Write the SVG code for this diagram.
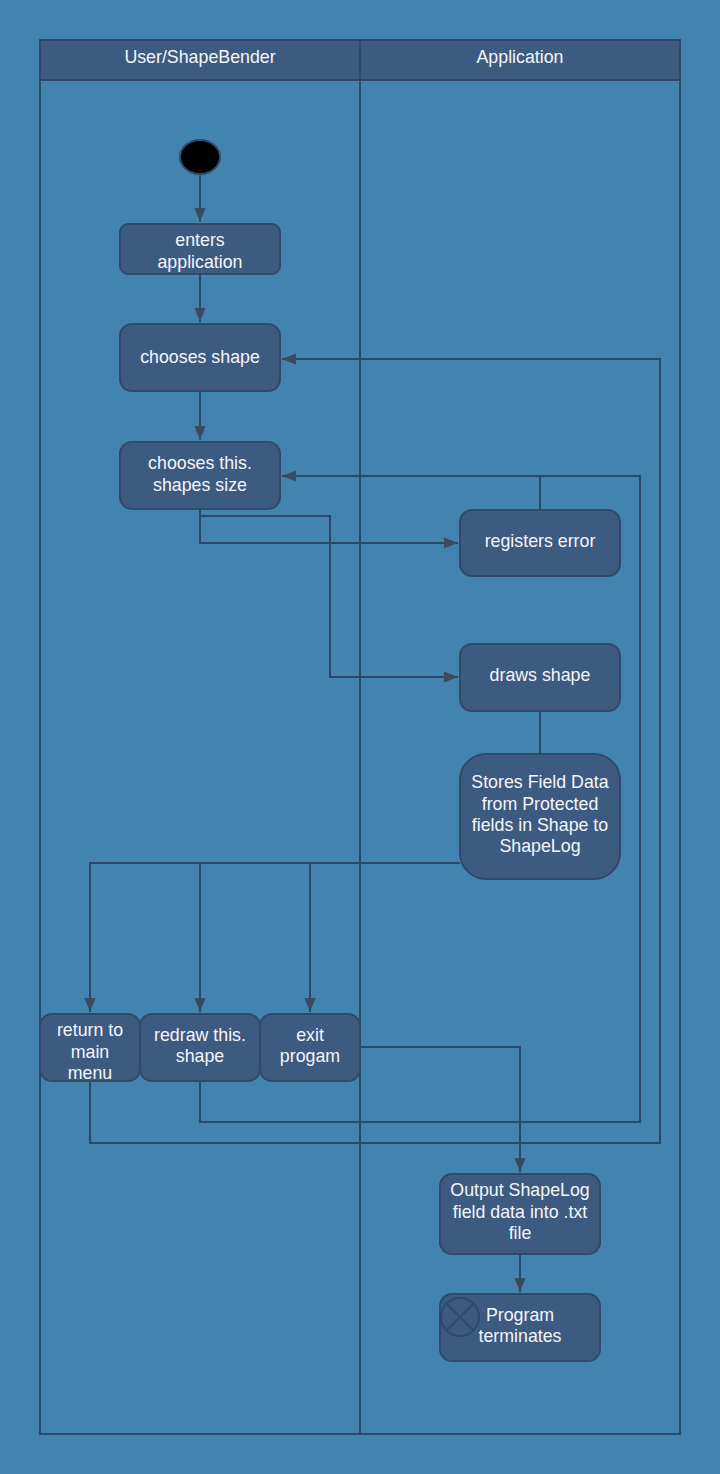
<svg xmlns="http://www.w3.org/2000/svg" width="720" height="1474" viewBox="0 0 720 1474">
<style>
.bg{fill:#4383AF}
.pool{fill:none;stroke:#2A4A6A;stroke-width:2}
.hdr{fill:#3D5A80;stroke:#2E4868;stroke-width:2}
.node{fill:#3D5A80;stroke:#2F4A6B;stroke-width:2}
.t{font-family:"Liberation Sans",Arial,sans-serif;font-size:17.8px;fill:#F4F6FA;text-anchor:middle}
.h{font-family:"Liberation Sans",Arial,sans-serif;font-size:17.8px;fill:#F4F6FA;text-anchor:middle}
.c{fill:none;stroke:#2C4868;stroke-width:2}
</style>
<defs>
<marker id="arr" viewBox="0 0 10 10" refX="10" refY="5" markerWidth="14" markerHeight="14" markerUnits="userSpaceOnUse" orient="auto">
<path d="M0,1 L10,5 L0,9 Z" fill="#3A4A60"/>
</marker>
</defs>
<rect class="bg" x="0" y="0" width="720" height="1474"/>
<g id="pool">
<rect class="hdr" x="40" y="40" width="640" height="40"/>
<rect class="pool" x="40" y="40" width="640" height="1394"/>
<line class="pool" x1="360" y1="40" x2="360" y2="1434"/>
<text class="h" x="200" y="63">User/ShapeBender</text>
<text class="h" x="520" y="63">Application</text>
</g>
<g id="connectors">
<path class="c" d="M200,175 V222" marker-end="url(#arr)"/>
<path class="c" d="M200,274 V322" marker-end="url(#arr)"/>
<path class="c" d="M200,391 V440" marker-end="url(#arr)"/>
<path class="c" d="M200,509 V543 H458" marker-end="url(#arr)"/>
<path class="c" d="M200,509 V516 H330 V677 H458" marker-end="url(#arr)"/>
<path class="c" d="M540,510 V476 H282" marker-end="url(#arr)"/>
<path class="c" d="M540,711 V754"/>
<path class="c" d="M460,863 H90 V1012" marker-end="url(#arr)"/>
<path class="c" d="M200,863 V1012" marker-end="url(#arr)"/>
<path class="c" d="M310,863 V1012" marker-end="url(#arr)"/>
<path class="c" d="M200,1081 V1122 H640 V476 H540"/>
<path class="c" d="M90,1081 V1143 H660 V359 H282" marker-end="url(#arr)"/>
<path class="c" d="M360,1047 H520 V1172" marker-end="url(#arr)"/>
<path class="c" d="M520,1254 V1292" marker-end="url(#arr)"/>
</g>
<g id="start">
<ellipse cx="200" cy="157" rx="20" ry="17" fill="#000" stroke="#2F4A6B" stroke-width="2"/>
</g>
<g id="enters">
<rect class="node" x="120" y="224" width="160" height="50" rx="8"/>
<text class="t" x="200" y="246">enters</text>
<text class="t" x="200" y="268">application</text>
</g>
<g id="choosesShape">
<rect class="node" x="120" y="324" width="160" height="67" rx="12"/>
<text class="t" x="200" y="363">chooses shape</text>
</g>
<g id="choosesSize">
<rect class="node" x="120" y="442" width="160" height="67" rx="12"/>
<text class="t" x="200" y="469">chooses this.</text>
<text class="t" x="200" y="491">shapes size</text>
</g>
<g id="registersError">
<rect class="node" x="460" y="510" width="160" height="66" rx="12"/>
<text class="t" x="540" y="547">registers error</text>
</g>
<g id="drawsShape">
<rect class="node" x="460" y="644" width="160" height="67" rx="12"/>
<text class="t" x="540" y="681">draws shape</text>
</g>
<g id="stores">
<rect class="node" x="460" y="754" width="160" height="125" rx="26"/>
<text class="t" x="540" y="788">Stores Field Data</text>
<text class="t" x="540" y="810">from Protected</text>
<text class="t" x="540" y="831">fields in Shape to</text>
<text class="t" x="540" y="852">ShapeLog</text>
</g>
<g id="returnMenu">
<rect class="node" x="40" y="1014" width="100" height="67" rx="12"/>
<text class="t" x="90" y="1036">return to</text>
<text class="t" x="90" y="1058">main</text>
<text class="t" x="90" y="1079">menu</text>
</g>
<g id="redraw">
<rect class="node" x="140" y="1014" width="120" height="67" rx="12"/>
<text class="t" x="200" y="1041">redraw this.</text>
<text class="t" x="200" y="1062">shape</text>
</g>
<g id="exit">
<rect class="node" x="260" y="1014" width="100" height="67" rx="12"/>
<text class="t" x="310" y="1041">exit</text>
<text class="t" x="310" y="1062">progam</text>
</g>
<g id="output">
<rect class="node" x="440" y="1174" width="160" height="80" rx="12"/>
<text class="t" x="520" y="1196">Output ShapeLog</text>
<text class="t" x="520" y="1218">field data into .txt</text>
<text class="t" x="520" y="1239">file</text>
</g>
<g id="terminate">
<rect class="node" x="440" y="1294" width="160" height="67" rx="12"/>
<circle cx="460" cy="1317" r="19" fill="none" stroke="#2F4A6B" stroke-width="2"/>
<path d="M446.6,1303.6 L473.4,1330.4 M473.4,1303.6 L446.6,1330.4" stroke="#2F4A6B" stroke-width="2"/>
<text class="t" x="520" y="1321">Program</text>
<text class="t" x="520" y="1342">terminates</text>
</g>
</svg>
